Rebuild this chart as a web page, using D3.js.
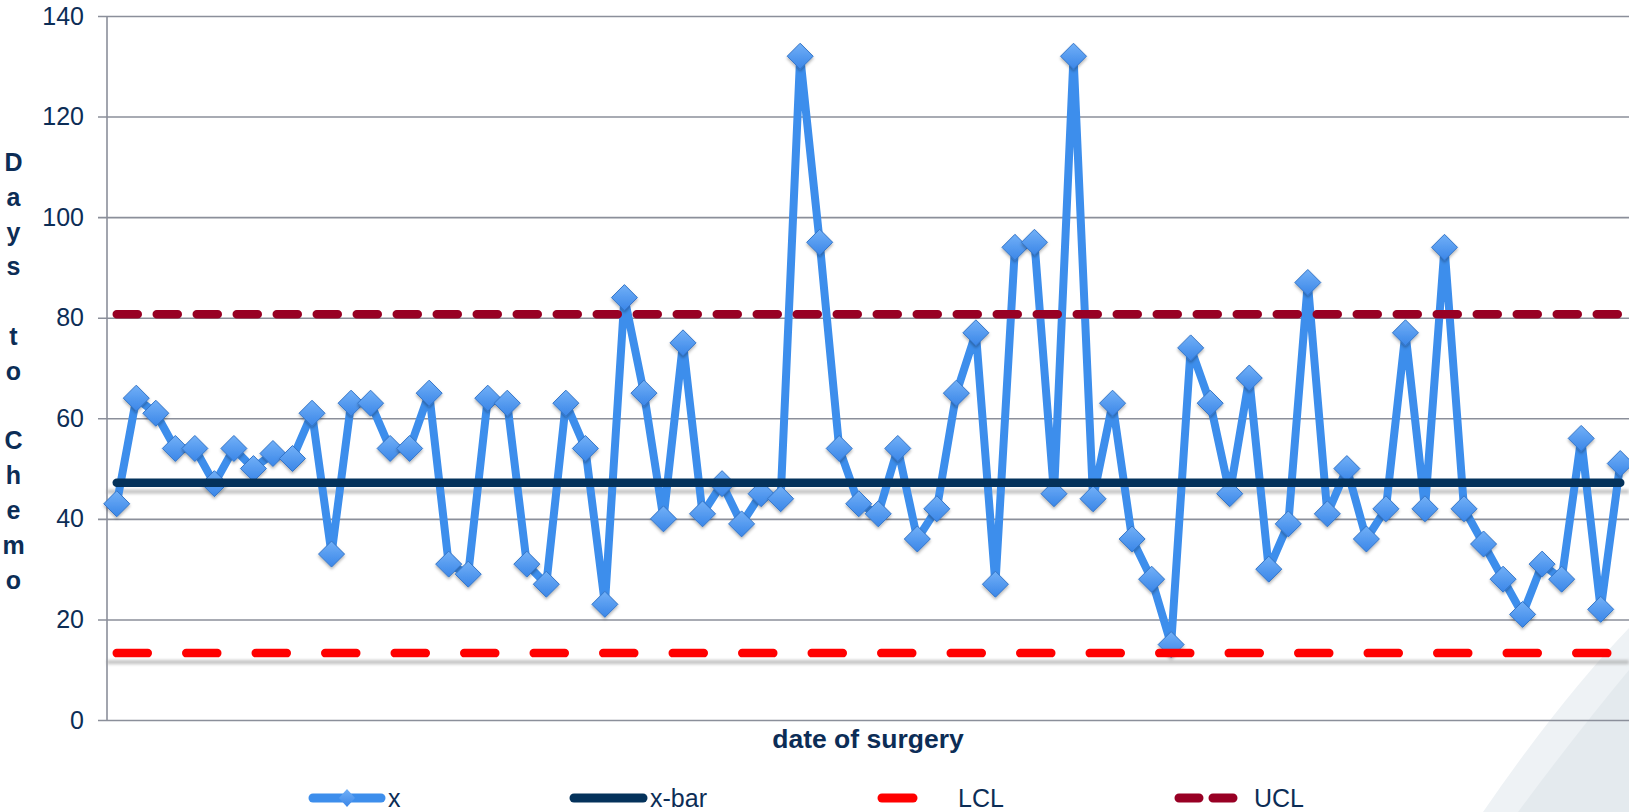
<!DOCTYPE html>
<html>
<head>
<meta charset="utf-8">
<script src="https://cdn.jsdelivr.net/npm/d3@7"></script>
<style>
  body { margin: 0; background: #fff; }
  text { font-family: "Liberation Sans", Arial, sans-serif; fill: #0c2d56; }
</style>
</head>
<body>
<div id="chart"></div>
<script>
// days from surgery to chemo, one value per surgery (in date order)
const days = [43, 64, 61, 54, 54, 47, 54, 50, 53, 52, 61, 33, 63, 63, 54, 54,
  65, 31, 29, 64, 63, 31, 27, 63, 54, 23, 84, 65, 40, 75, 41, 47, 39, 45, 44, 132, 95,
  54, 43, 41, 54, 36, 42, 65, 77, 27, 94, 95, 45, 132, 44, 63, 36, 28, 15, 74, 63,
  45, 68, 30, 39, 87, 41, 50, 36, 42, 77, 42, 94, 42, 35, 28, 21, 31, 28, 56, 22, 51];
const surgeries = days.map((d, i) => i + 1);

// control limits
const xBar = 47.2;
const lcl = 13.3;
const ucl = 80.7;

const yTicks = [0, 20, 40, 60, 80, 100, 120, 140];
const yTitle = "Days to Chemo";
const xTitle = "date of surgery";

const W = 1629, H = 812;
const plot = { left: 107, right: 1630, top: 16, bottom: 720 };

const svg = d3.select("#chart")
  .append("svg")
  .attr("width", W)
  .attr("height", H);

const defs = svg.append("defs");

const grad = defs.append("linearGradient")
  .attr("id", "diamondFill")
  .attr("x1", 0).attr("y1", 0).attr("x2", 0).attr("y2", 1);
grad.append("stop").attr("offset", "0%").attr("stop-color", "#72b0f7");
grad.append("stop").attr("offset", "100%").attr("stop-color", "#3a86e8");

const shadow = defs.append("filter").attr("id", "dshadow")
  .attr("x", "-50%").attr("y", "-50%").attr("width", "200%").attr("height", "200%");
shadow.append("feDropShadow")
  .attr("dx", 0).attr("dy", 2).attr("stdDeviation", 1.5)
  .attr("flood-color", "#000").attr("flood-opacity", 0.3);

// user-space region so it works on a flat shape
const blur = defs.append("filter").attr("id", "blurline")
  .attr("filterUnits", "userSpaceOnUse")
  .attr("x", 0).attr("y", 0).attr("width", W).attr("height", H);
blur.append("feGaussianBlur").attr("stdDeviation", 1.5);

// template decoration in the bottom right corner
svg.append("path")
  .attr("d", "M1483,812 Q1560,700 1629,628 L1629,812 Z")
  .attr("fill", "#eef2f5");
svg.append("path")
  .attr("d", "M1518,812 Q1575,735 1629,670 L1629,812 Z")
  .attr("fill", "#e4eaee");

const x = d3.scaleBand()
  .domain(surgeries)
  .range([plot.left, plot.right])
  .padding(0);
const cx = d => x(d) + x.bandwidth() / 2;

const y = d3.scaleLinear()
  .domain([0, 140])
  .range([plot.bottom, plot.top]);

// gridlines + tick labels
const yAxis = svg.append("g")
  .attr("transform", `translate(${plot.left},0)`)
  .call(d3.axisLeft(y).tickValues(yTicks).tickSize(9).tickPadding(14))
  .call(g => g.select(".domain").remove());
yAxis.selectAll(".tick line")
  .attr("x2", W - plot.left)
  .attr("x1", -9)
  .attr("stroke", "#8b8f9a")
  .attr("stroke-width", 1.6);
yAxis.selectAll(".tick text")
  .attr("font-size", "25px")
  .attr("fill", "#0c2d56");

svg.append("line")
  .attr("x1", plot.left).attr("x2", plot.left)
  .attr("y1", plot.top).attr("y2", plot.bottom)
  .attr("stroke", "#8b8f9a")
  .attr("stroke-width", 1.6);

// faint shadows under the x-bar and LCL lines
[xBar, lcl].forEach(v => {
  svg.append("rect")
    .attr("x", plot.left).attr("width", W - plot.left)
    .attr("y", y(v) + 7).attr("height", 4)
    .attr("fill", "#9a9a9a")
    .attr("opacity", 0.6)
    .attr("filter", "url(#blurline)");
});

// x series
const line = d3.line()
  .x((d, i) => cx(surgeries[i]))
  .y(d => y(d));

svg.append("path")
  .datum(days)
  .attr("fill", "none")
  .attr("stroke", "#3d8eec")
  .attr("stroke-width", 8)
  .attr("stroke-linejoin", "round")
  .attr("d", line);

const dm = 13;
svg.append("g")
  .selectAll("path")
  .data(days)
  .join("path")
  .attr("transform", (d, i) => `translate(${cx(surgeries[i])},${y(d)})`)
  .attr("d", `M0,${-dm}L${dm},0L0,${dm}L${-dm},0Z`)
  .attr("fill", "url(#diamondFill)")
  .attr("stroke", "#3475c8")
  .attr("stroke-width", 1)
  .attr("filter", "url(#dshadow)");

// control lines
const x0 = cx(surgeries[0]), x1 = cx(surgeries[surgeries.length - 1]);
const limits = [
  { v: xBar, color: "#04325b", dash: null },
  { v: lcl, color: "#ff0000", dash: "31,38.5" },
  { v: ucl, color: "#980024", dash: "21,19" }
];
limits.forEach(l => {
  svg.append("line")
    .attr("x1", x0).attr("x2", x1)
    .attr("y1", y(l.v)).attr("y2", y(l.v))
    .attr("stroke", l.color)
    .attr("stroke-width", 8.5)
    .attr("stroke-linecap", "round")
    .attr("stroke-dasharray", l.dash);
});

// axis titles
svg.append("text")
  .attr("x", 868)
  .attr("y", 748)
  .attr("text-anchor", "middle")
  .attr("font-size", "26.5px")
  .attr("font-weight", "bold")
  .text(xTitle);

const yt = svg.append("text")
  .attr("font-size", "25px")
  .attr("font-weight", "bold")
  .attr("text-anchor", "middle");
yt.selectAll("tspan")
  .data(yTitle.split(""))
  .join("tspan")
  .attr("x", 13.5)
  .attr("y", (d, i) => 171 + i * 34.8)
  .text(d => d);

// legend
const lg = svg.append("g").attr("transform", "translate(0,798)");
lg.append("line").attr("x1", 313).attr("x2", 381).attr("stroke", "#3d8eec")
  .attr("stroke-width", 9).attr("stroke-linecap", "round");
lg.append("path").attr("transform", "translate(347,0)")
  .attr("d", "M0,-9L8,0L0,9L-8,0Z").attr("fill", "url(#diamondFill)");
lg.append("text").attr("x", 388).attr("y", 9).attr("font-size", "25px").text("x");

lg.append("line").attr("x1", 574).attr("x2", 643).attr("stroke", "#04325b")
  .attr("stroke-width", 9).attr("stroke-linecap", "round");
lg.append("text").attr("x", 650).attr("y", 9).attr("font-size", "25px").text("x-bar");

lg.append("line").attr("x1", 882).attr("x2", 913).attr("stroke", "#ff0000")
  .attr("stroke-width", 9).attr("stroke-linecap", "round");
lg.append("text").attr("x", 958).attr("y", 9).attr("font-size", "25px").text("LCL");

lg.append("line").attr("x1", 1179).attr("x2", 1239).attr("stroke", "#980024")
  .attr("stroke-width", 9).attr("stroke-linecap", "round")
  .attr("stroke-dasharray", "20,14");
lg.append("text").attr("x", 1254).attr("y", 9).attr("font-size", "25px").text("UCL");
</script>
</body>
</html>
